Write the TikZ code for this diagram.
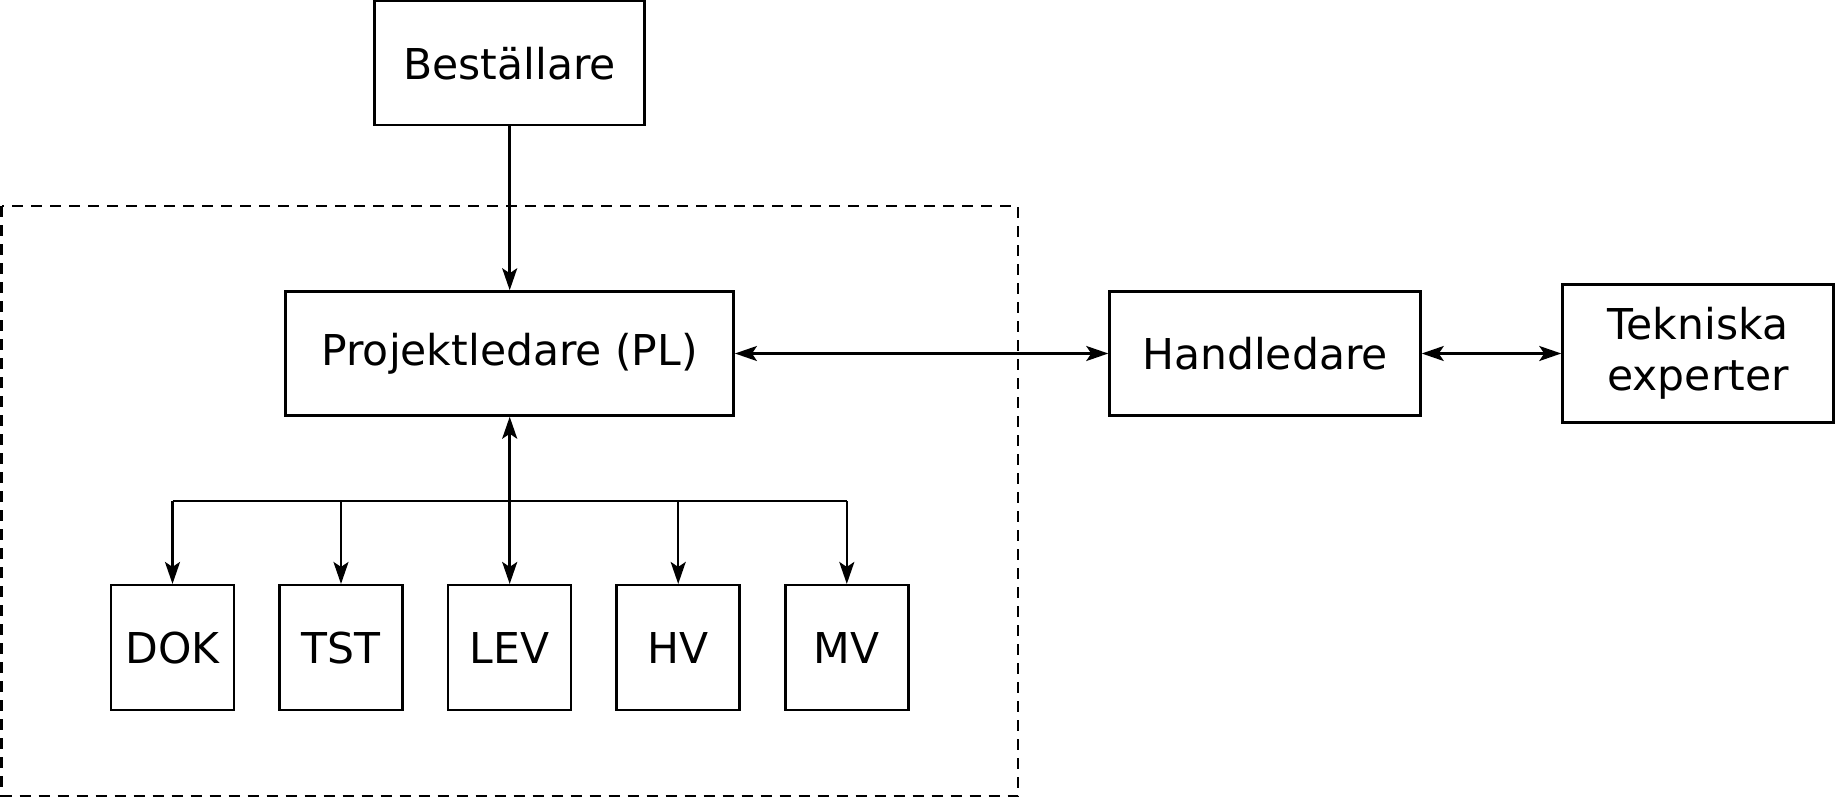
\documentclass[tikz,border=0pt]{standalone}
\usepackage{fontspec}
\setmainfont{DejaVu Sans}
\usetikzlibrary{arrows.meta}
\tikzset{
	box/.style={draw, line width=2.5pt, minimum height=124pt, inner sep=0pt, align=center, font=\fontsize{42.5}{51}\selectfont},
	small/.style={box, minimum width=123pt, minimum height=125pt},
	conn/.style={line width=2.5pt},
}
\begin{document}
\begin{tikzpicture}[x=1pt,y=-1pt, >={Stealth[length=22pt,width=15pt,inset=5pt]}]
		\useasboundingbox (0,0) rectangle (1835,797);
		\draw[line width=2.5pt, dash pattern=on 11pt off 8pt] (1.5,206) rectangle (1018,796);
		\node[box, minimum width=270pt] (best) at (509.7, 63.2) {Beställare};
		\node[box, minimum width=448pt] (pl) at (509.7,353.5) {Projektledare (PL)};
		\node[box, minimum width=311pt] (hand) at (1265,353.5) {Handledare};
		\node[box, minimum width=271pt, minimum height=138pt] (tek) at (1698,353.5) {Tekniska\\experter};
		\node[small] (dok) at (172.5,647.7) {DOK};
		\node[small] (tst) at (341.0,647.7) {TST};
		\node[small] (lev) at (509.7,647.7) {LEV};
		\node[small] (hv)  at (678.2,647.7) {HV};
		\node[small] (mv)  at (846.8,647.7) {MV};
		\coordinate (bus) at (0,501);
		\draw[conn, ->] (best) -- (pl);
		\draw[conn, <->] (pl) -- (hand);
		\draw[conn, <->] (hand) -- (tek);
		\draw[conn, <->] (pl) -- (lev);
		\draw[conn] (bus -| dok) -- (bus -| mv);
		\foreach \n in {dok,tst,hv,mv}
			\draw[conn, ->] (bus -| \n) -- (\n);
	\end{tikzpicture}
\end{document}
